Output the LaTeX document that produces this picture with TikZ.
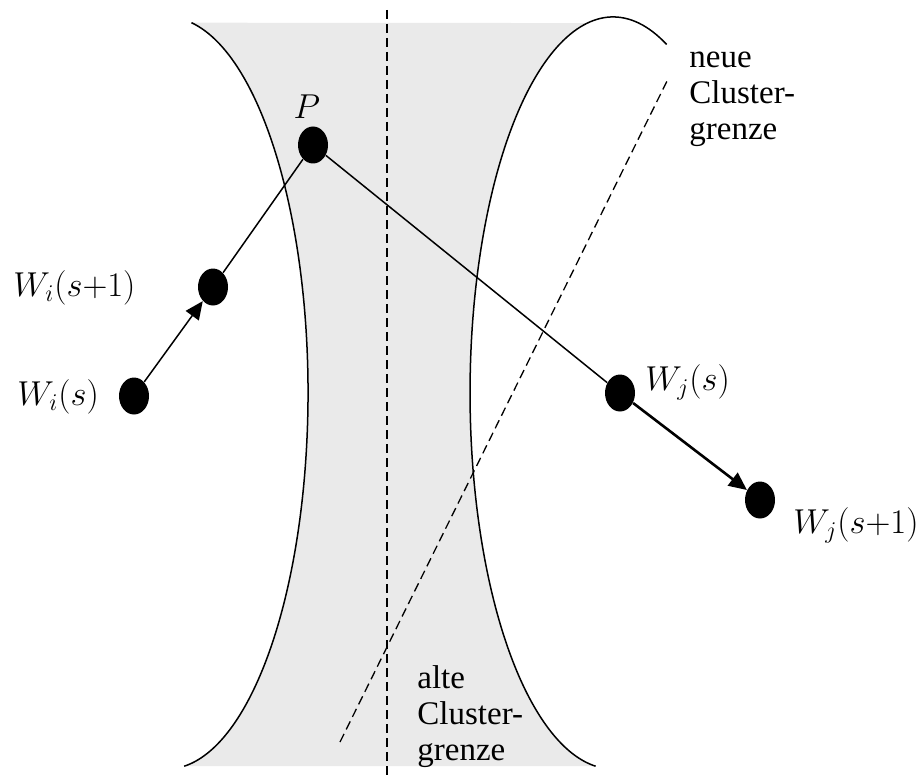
\documentclass[tikz,border=0pt]{standalone}
\usepackage{fontspec}
\setmainfont{Liberation Serif}
\usepackage{tikz}
\usetikzlibrary{arrows.meta,shapes.geometric}
\definecolor{zonegray}{RGB}{234,234,234}
\tikzset{
  dot/.style={ellipse,fill=black,inner sep=0pt,minimum width=15pt,minimum height=18.5pt},
  lbl/.style={inner sep=0pt,anchor=west},
  note/.style={inner sep=0pt,align=left,anchor=north west},
  border/.style={line width=0.75pt},
  bound/.style={line width=0.65pt,dash pattern=on 4.5pt off 2.5pt},
}

\begin{document}
\begin{tikzpicture}[>={Triangle[length=9pt,width=8pt]},x=0.5pt,y=0.5pt,font=\fontsize{16.5}{18}\selectfont]
    \useasboundingbox (0,0) rectangle (919,778);
    \fill[zonegray] (191.5,755.3) arc [start angle=80,end angle=-83,x radius=141,y radius=376]
        -- (595.6,11.8) arc [start angle=263,end angle=100.3,x radius=143,y radius=376] -- cycle;
    \draw[border] (191.5,755.3) arc [start angle=80,end angle=-83,x radius=141,y radius=376];
    \draw[border] (666.6,733.6) arc [start angle=68,end angle=263,x radius=143,y radius=376];

    \draw[bound] (387,768) -- (387,0);
    \draw[bound] (340,36) -- (669,701);

    \node[dot] (P) at (313,633) {};
    \node[dot] (Wi1) at (213,491) {};
    \node[dot] (Wi0) at (134,382) {};
    \node[dot] (Wj0) at (620,385) {};
    \node[dot] (Wj1) at (760,278) {};

    \draw[border] (P) -- (Wi1);
    \draw[border] (P) -- (Wj0);
    \draw[->,border] (Wi0) -- (Wi1);
    \draw[->,line width=1.3pt] (Wj0) -- (Wj1);

    \node (lP) at (307,671) {$P$};
    \node[lbl] (lWi1) at (13,490) {$W_i(s{+}1)$};
    \node[lbl] (lWi0) at (17,381) {$W_i(s)$};
    \node[lbl] (lWj0) at (645,396) {$W_j(s)$};
    \node[lbl] (lWj1) at (793,253) {$W_j(s{+}1)$};

    \node[note] (neu) at (689,726) {neue\\Cluster-\\grenze};
    \node[note] (alt) at (417,113) {alte\\Cluster-\\grenze};
\end{tikzpicture}
\end{document}
